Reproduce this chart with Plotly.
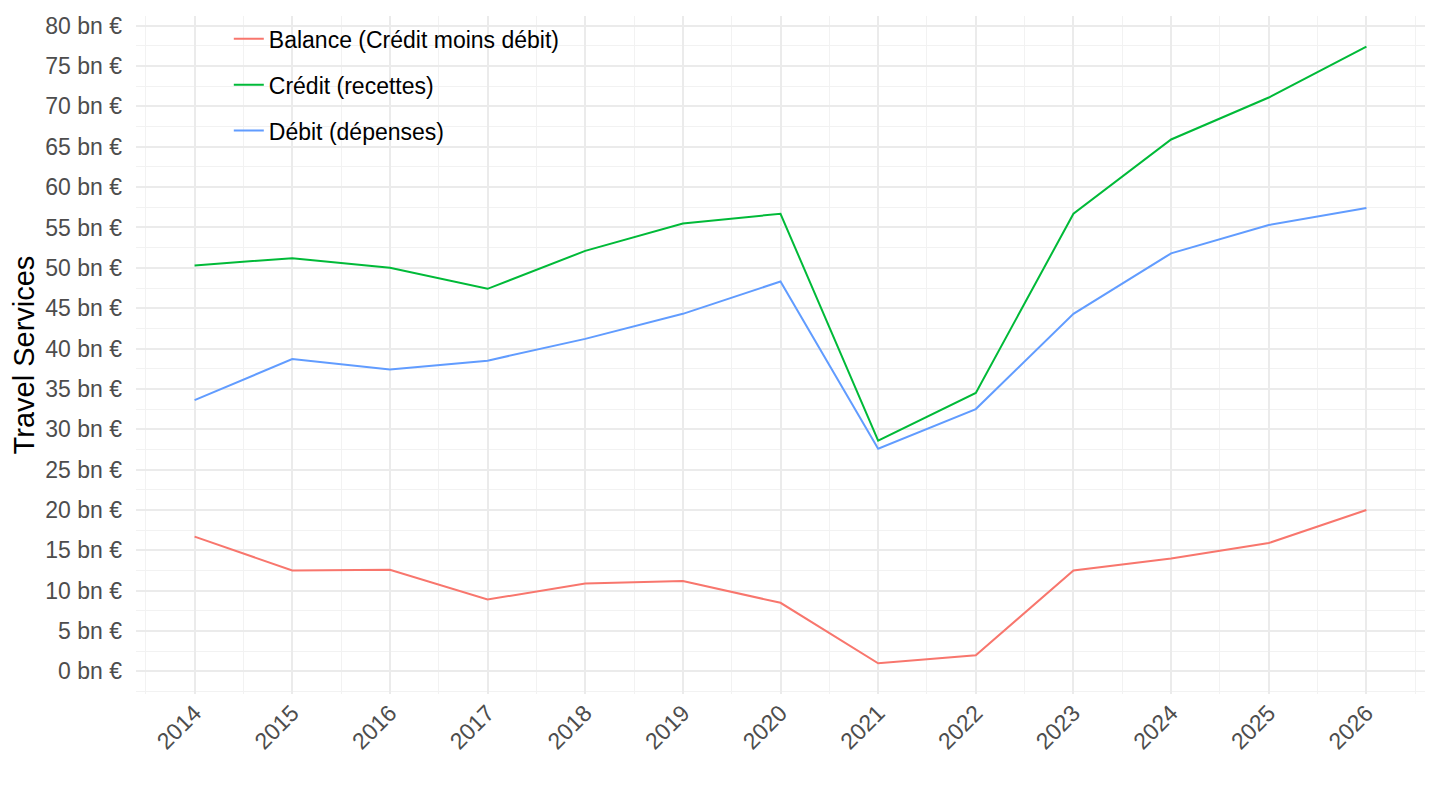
import plotly.graph_objects as go

years = list(range(2014, 2027))
credit = [50.3, 51.2, 50.0, 47.4, 52.1, 55.5, 56.7, 28.6, 34.5, 56.7, 65.9, 71.1, 77.4]
debit = [33.6, 38.7, 37.4, 38.5, 41.2, 44.3, 48.3, 27.6, 32.5, 44.3, 51.8, 55.3, 57.4]
balance = [16.7, 12.5, 12.6, 8.9, 10.9, 11.2, 8.5, 1.0, 2.0, 12.5, 14.0, 15.9, 20.0]

series = [
    ("Balance (Crédit moins débit)", balance, "#F8766D"),
    ("Crédit (recettes)", credit, "#00BA38"),
    ("Débit (dépenses)", debit, "#619CFF"),
]

fig = go.Figure()
for i, (name, vals, color) in enumerate(series):
    fig.add_trace(go.Scatter(
        x=years, y=vals, name=name, mode="lines",
        line=dict(color=color, width=2), legendgroup=str(i),
    ))

# the page puts the figure 8px in from the top-left corner
fig.update_layout(
    width=1440, height=810,
    margin=dict(l=128, r=23, t=8, b=124),
    plot_bgcolor="white", paper_bgcolor="white",
    font=dict(family="Liberation Sans, Arial, sans-serif", size=23, color="#4D4D4D"),
    showlegend=True,
    legend=dict(
        x=0.072, y=0.998, xanchor="left", yanchor="top",
        bgcolor="rgba(0,0,0,0)", font=dict(size=23, color="black"),
        tracegroupgap=13,
    ),
)
fig.update_xaxes(
    range=[2013.4, 2026.6], tickvals=years, ticktext=[str(y) for y in years],
    tickangle=-45, showgrid=True, gridcolor="#EBEBEB", gridwidth=2,
    minor=dict(dtick=0.5, tick0=2013.5, showgrid=True, gridcolor="#F2F2F2", gridwidth=1),
    zeroline=False, showline=False, ticks="", automargin=False,
    tickfont=dict(size=23, color="#4D4D4D"),
)
fig.update_yaxes(
    range=[-2.8, 81.2], tick0=0, dtick=5, ticksuffix=" bn €",
    showgrid=True, gridcolor="#EBEBEB", gridwidth=2,
    minor=dict(dtick=2.5, tick0=0, showgrid=True, gridcolor="#F2F2F2", gridwidth=1),
    zeroline=False, showline=False, ticks="", automargin=False, ticklabelstandoff=13,
    title=dict(text="Travel Services", font=dict(size=29, color="black"), standoff=10),
    tickfont=dict(size=23, color="#4D4D4D"),
)

fig.write_html("out.html")
